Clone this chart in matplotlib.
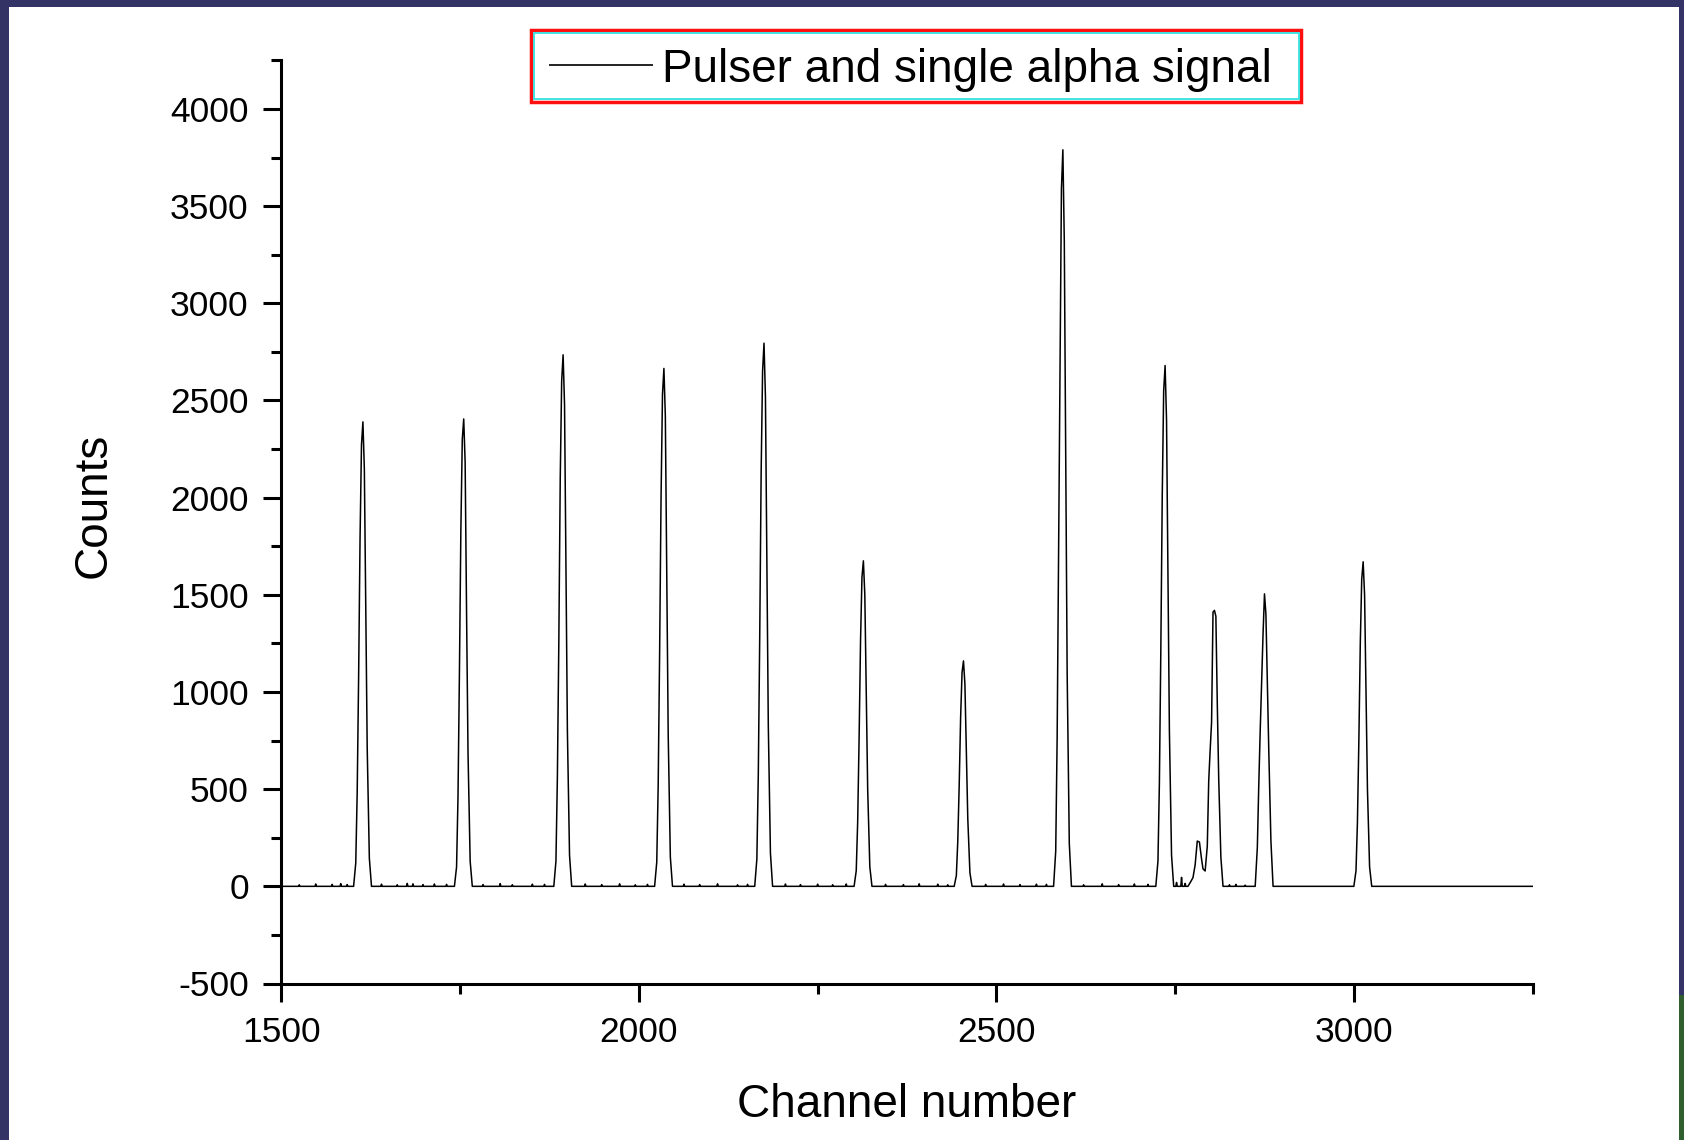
import numpy as np
import matplotlib
matplotlib.use("Agg")
import matplotlib.pyplot as plt
from matplotlib.patches import Rectangle
from matplotlib.lines import Line2D

plt.rcParams['font.family'] = ['Liberation Sans', 'DejaVu Sans']
plt.rcParams['axes.unicode_minus'] = False

### spectrum (channel, counts)
# pulser peaks: centre channel + counts at fixed channel offsets around it
peak_centres = [1614, 1755, 1894, 2035, 2175, 2314, 2454, 2593, 2736, 2805, 2875, 3013]
peak_offsets = [-13, -10, -8, -6, -4, -2, 0, 2, 4, 6, 9, 12]
peak_counts = [
    [0, 120, 480, 1075, 1790, 2270, 2390, 2150, 1435, 715, 145, 0],
    [0, 100, 460, 1100, 1830, 2300, 2405, 2180, 1400, 690, 130, 0],
    [0, 130, 560, 1250, 2100, 2600, 2735, 2480, 1650, 800, 160, 0],
    [0, 125, 520, 1200, 2000, 2530, 2665, 2420, 1600, 780, 150, 0],
    [0, 140, 570, 1280, 2130, 2650, 2795, 2520, 1690, 830, 170, 0],
    [0, 80, 330, 760, 1260, 1590, 1675, 1500, 1000, 500, 100, 0],
    [0, 55, 230, 520, 870, 1100, 1160, 1040, 700, 350, 70, 0],
    [0, 180, 760, 1700, 2600, 3590, 3790, 3320, 2250, 1100, 220, 0],
    [0, 130, 530, 1210, 2010, 2550, 2680, 2400, 1610, 800, 160, 0],
    [79, 207, 542, 700, 844, 1411, 1420, 1390, 937, 550, 150, 0],
    [0, 200, 520, 800, 1050, 1300, 1505, 1400, 1050, 700, 233, 0],
    [0, 80, 330, 750, 1250, 1580, 1670, 1500, 1000, 500, 100, 0],
]

# small alpha bump just before the 2805 peak
bump_channels = [2768, 2772, 2775, 2778, 2781, 2784, 2787, 2789]
bump_counts = [0, 25, 45, 110, 233, 228, 140, 90]

# little blips on the baseline
noise_channels = [1525, 1548, 1571, 1583, 1592, 1640, 1662, 1676, 1684, 1698, 1714, 1731,
                  1782, 1806, 1823, 1851, 1868, 1925, 1948, 1973, 1995, 2012, 2063, 2085,
                  2110, 2138, 2152, 2205, 2226, 2250, 2271, 2290, 2345, 2370, 2392, 2418,
                  2432, 2485, 2510, 2533, 2556, 2570, 2622, 2648, 2671, 2693, 2712, 2752,
                  2759, 2764, 2826, 2835, 2848]
noise_counts = [8, 12, 10, 14, 9, 11, 8, 15, 13, 9, 12, 10,
                9, 14, 8, 11, 10, 12, 9, 13, 8, 10, 11, 9,
                13, 8, 10, 12, 9, 11, 8, 12, 10, 9, 13, 11,
                8, 10, 12, 9, 11, 10, 8, 13, 9, 12, 10, 20,
                46, 15, 8, 10, 6]

x_range = [1500, 3250]
y_range = [-500, 4250]
x_major = [1500, 2000, 2500, 3000]
x_minor = [1750, 2250, 2750, 3250]
y_major = list(range(-500, 4001, 500))
y_minor = list(range(-250, 4251, 500))

series_label = "Pulser and single alpha signal"

### put the points together
ch = [x_range[0], x_range[1]]
ct = [0, 0]
for c, counts in zip(peak_centres, peak_counts):
    ch += [c + o for o in peak_offsets]
    ct += counts
ch += bump_channels
ct += bump_counts
for c, v in zip(noise_channels, noise_counts):
    ch += [c - 1, c, c + 1]
    ct += [0, v, 0]
order = np.argsort(ch, kind="stable")
ch = np.array(ch)[order]
ct = np.array(ct)[order]

### figure in pixel terms
W, H = 1684, 1140
navy = "#333366"


def fx(px):
    return px / W


def fy(py):
    return 1 - py / H


fig = plt.figure(figsize=(W / 100, H / 100), dpi=100, facecolor=navy)
fig.add_artist(Rectangle((fx(9), 0), fx(1679) - fx(9), fy(7), transform=fig.transFigure,
                         facecolor="white", edgecolor="none", zorder=-5))
fig.add_artist(Rectangle((fx(1679), 0), fx(W) - fx(1679), fy(995), transform=fig.transFigure,
                         facecolor="#2f5f2f", edgecolor="none", zorder=-5))

left, right, top, bottom = 281.4, 1532.6, 60.4, 983.5
ax = fig.add_axes([fx(left), fy(bottom), fx(right) - fx(left), fy(top) - fy(bottom)])
ax.set_facecolor("none")

ax.plot(ch, ct, color="black", lw=1.1)

ax.set_xlim(*x_range)
ax.set_ylim(*y_range)
ax.set_xticks(x_major)
ax.set_xticks(x_minor, minor=True)
ax.set_yticks(y_major)
ax.set_yticks(y_minor, minor=True)

for s in ["top", "right"]:
    ax.spines[s].set_visible(False)
for s in ["left", "bottom"]:
    ax.spines[s].set_linewidth(2.2)

ax.tick_params(which="major", direction="out", length=13, width=2.2, labelsize=25.5, pad=10.5)
ax.tick_params(which="minor", direction="out", length=7, width=2.2)

ax.set_xlabel("Channel number", fontsize=33, va="center")
ax.xaxis.set_label_coords(0.5, (bottom - 1105) / (bottom - top))
ax.set_ylabel("Counts", fontsize=33, va="center")
ax.yaxis.set_label_coords((93.5 - left) / (right - left), (bottom - 505.5) / (bottom - top))

### legend box drawn by hand (red frame with a cyan inner line, like Origin)
fig.add_artist(Rectangle((fx(530.5), fy(101.5)), fx(1301) - fx(530.5), fy(29.5) - fy(101.5),
                         transform=fig.transFigure, facecolor="white", edgecolor="#ff1010", lw=2.5))
fig.add_artist(Rectangle((fx(533.5), fy(98.5)), fx(1298.5) - fx(533.5), fy(32.5) - fy(98.5),
                         transform=fig.transFigure, facecolor="none", edgecolor="#33e0e0", lw=1.3))
fig.add_artist(Line2D([fx(550), fx(652)], [fy(64.5), fy(64.5)], transform=fig.transFigure,
                      color="#222222", lw=1.4))
fig.text(fx(662), fy(82), series_label, fontsize=33, va="baseline", ha="left")

fig.savefig("out.png", dpi=100, facecolor=fig.get_facecolor())
